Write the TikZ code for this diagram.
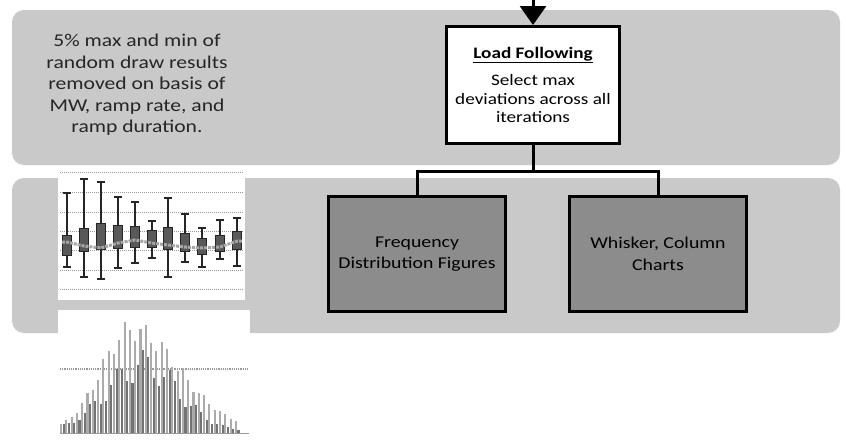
\documentclass[tikz,border=0pt]{standalone}
\usepackage{fontspec}
\setmainfont{Carlito}
\newfontfamily\widefont[FakeStretch=1.2]{Carlito}
\usetikzlibrary{arrows.meta}

% colours taken from the screen shot
\definecolor{bandgray}{gray}{0.79}
\definecolor{boxgray}{gray}{0.55}
\definecolor{gridgray}{gray}{0.6}

\tikzset{
  band/.style={fill=bandgray, draw=none, rounded corners=12pt},
  lfbox/.style={draw=black, line width=3pt, fill=white, minimum width=173pt,
    minimum height=117pt, align=center, inner sep=2pt,
    font=\widefont\fontsize{16}{18.5}\selectfont},
  outbox/.style={draw=black, line width=3pt, fill=boxgray, minimum width=177pt,
    minimum height=115pt, align=center, font=\widefont\fontsize{16.5}{21.5}\selectfont},
  notetext/.style={align=center, text=black!85, font=\widefont\fontsize{18}{21.5}\selectfont},
  link/.style={line width=3pt},
  whisk/.style={line width=2.2pt, black!85},
  histbar/.style={line width=2.1pt}
}

\begin{document}
\begin{tikzpicture}[x=1pt,y=-1pt]
    \useasboundingbox (0,0) rectangle (846,445);

    % --- Background bands ---
    \fill[band] (12,10) rectangle (840,165);
    \fill[band] (12,178) rectangle (840,333);

    % --- Left note ---
    \node[notetext] (note) at (137,85)
        {5\% max and min of\\random draw results\\removed on basis of\\MW, ramp rate, and\\ramp duration.};

    % --- Flow boxes ---
    \node[lfbox] (loadfollow) at (533,85)
        {\underline{\textbf{Load Following}}\\[9pt]Select max\\deviations across all\\iterations};
    \node[outbox] (freqfig) at (417,254) {Frequency\\Distribution Figures};
    \node[outbox] (whiskfig) at (658,254) {Whisker, Column\\Charts};

    % --- Connectors ---
    \coordinate (entry) at (533,0);
    \coordinate (split) at (533,171);
    \draw[link, -{Triangle[width=26pt,length=19pt]}] (entry) -- (loadfollow.north);
    \draw[link] (loadfollow.south) -- (split);
    \draw[link] (freqfig.north) |- (split) -| (whiskfig.north);

    % --- Whisker chart thumbnail ---
    \fill[white] (58,168) rectangle (245,300);
    \foreach \gy in {172,192,212,231,250,270,289}
        \draw[gridgray, densely dotted, line width=1pt] (60,\gy) -- (244,\gy);
    % one entry per column: x / whisker top / whisker bottom / box top / box bottom
    \foreach \cx/\wt/\wb/\bt/\bb in {67/193/267/235/255, 84/179/277/228/251,
        101/182/279/223/249, 118/197/268/225/248, 135/202/263/226/247,
        152/221/258/230/247, 168/198/277/227/249, 185/214/262/233/251,
        202/228/267/238/254, 220/220/259/235/251, 237/218/266/231/249} {
        \draw[whisk] (\cx,\wt) -- (\cx,\wb);
        \draw[whisk] (\cx-4,\wt) -- (\cx+4,\wt);
        \draw[whisk] (\cx-4,\wb) -- (\cx+4,\wb);
        \filldraw[fill=black!65, draw=black!85, line width=0.8pt] (\cx-4.5,\bt) rectangle (\cx+4.5,\bb);
    }
    % mean line
    \draw[black!35, line width=3pt, line join=round, densely dotted]
        (62,242) -- (67,242) -- (84,246) -- (101,248) -- (118,243) -- (135,240)
        -- (152,243) -- (168,245) -- (185,247) -- (202,248) -- (220,247) -- (237,241) -- (242,241);

    % --- Histogram thumbnail ---
    \fill[white] (58,310) rectangle (250,445);
    \draw[gridgray, densely dotted, line width=1.2pt] (60,369) -- (249,369);
    \foreach \i in {0,...,33} {
        \pgfmathsetmacro\bx{61+5.3*\i}
        \pgfmathsetmacro\sg{ifthenelse(\bx<131,42,68)}
        \pgfmathsetmacro\hl{111*exp(-((\bx-131)/\sg)^2)*(0.9+0.1*sin(\i*97))+3}
        \pgfmathsetmacro\hd{82*exp(-((\bx-140)/50)^2)*(0.8+0.2*cos(\i*71))+2}
        \draw[histbar, black!33] (\bx,433) -- (\bx,433-\hl);
        \draw[histbar, black!55] (\bx+2.6,433) -- (\bx+2.6,433-\hd);
    }
    \draw[gridgray, line width=1pt] (60,433) -- (249,433);

\end{tikzpicture}
\end{document}
